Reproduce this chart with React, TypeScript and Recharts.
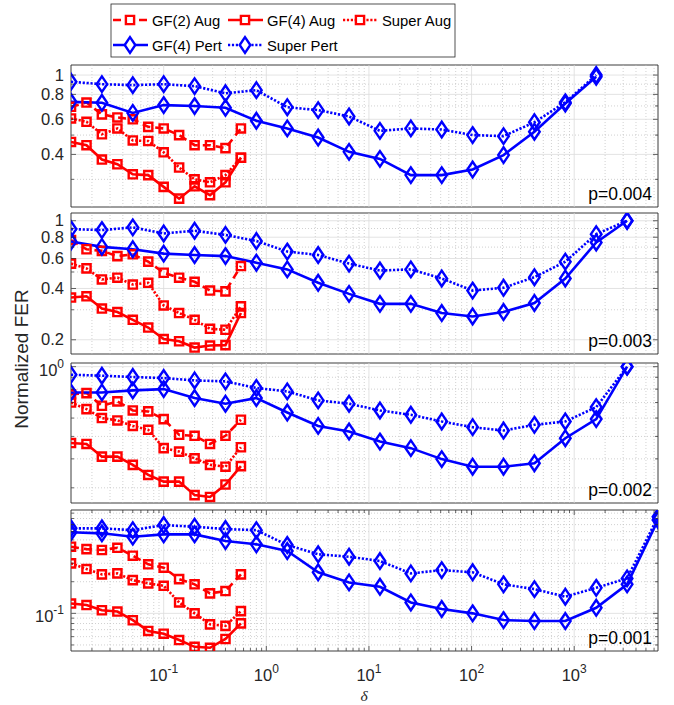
import React from 'react';
import { LineChart, Line, XAxis, YAxis, ReferenceLine, ReferenceArea } from 'recharts';

// ---------- data ----------
const deltaAug = [0.0125, 0.0177, 0.025, 0.0354, 0.05, 0.0707, 0.1, 0.1414, 0.2, 0.2828, 0.4, 0.5657];
const deltaPert = [0.0125, 0.025, 0.05, 0.1, 0.2, 0.4, 0.8, 1.6, 3.2, 6.4, 12.8, 25.6, 51.2, 102.4, 204.8, 409.6, 819.2, 1638.4, 3276.8, 6553.6];

const p1Gf2Aug = [0.693, 0.728, 0.635, 0.613, 0.6, 0.55, 0.54, 0.5, 0.445, 0.445, 0.43, 0.54];
const p1Gf4Aug = [0.462, 0.445, 0.377, 0.357, 0.318, 0.315, 0.275, 0.24, 0.277, 0.25, 0.29, 0.385];
const p1SuperAug = [0.606, 0.583, 0.505, 0.54, 0.47, 0.467, 0.41, 0.344, 0.3, 0.29, 0.315, 0.385];
const p1Gf4Pert = [0.734, 0.726, 0.646, 0.707, 0.699, 0.685, 0.59, 0.54, 0.486, 0.412, 0.38, 0.315, 0.315, 0.336, 0.397, 0.52, 0.72, 0.98];
const p1SuperPert = [0.925, 0.9, 0.89, 0.9, 0.88, 0.81, 0.84, 0.69, 0.667, 0.62, 0.525, 0.54, 0.533, 0.5, 0.494, 0.58, 0.73, 1.0];

const p2Gf2Aug = [0.77, 0.68, 0.665, 0.62, 0.635, 0.575, 0.495, 0.463, 0.438, 0.389, 0.385, 0.542];
const p2Gf4Aug = [0.354, 0.36, 0.305, 0.291, 0.262, 0.236, 0.202, 0.196, 0.18, 0.185, 0.186, 0.287];
const p2SuperAug = [0.56, 0.525, 0.452, 0.463, 0.422, 0.432, 0.318, 0.287, 0.262, 0.232, 0.229, 0.314];
const p2Gf4Pert = [0.755, 0.702, 0.68, 0.641, 0.629, 0.62, 0.567, 0.518, 0.432, 0.372, 0.325, 0.325, 0.287, 0.274, 0.291, 0.329, 0.458, 0.745, 1.0];
const p2SuperPert = [0.893, 0.881, 0.914, 0.842, 0.873, 0.826, 0.76, 0.659, 0.629, 0.56, 0.51, 0.518, 0.458, 0.389, 0.404, 0.466, 0.575, 0.834, 1.0];

const p3Gf2Aug = [0.76, 0.769, 0.678, 0.708, 0.647, 0.641, 0.594, 0.508, 0.503, 0.464, 0.503, 0.59];
const p3Gf4Aug = [0.468, 0.464, 0.409, 0.409, 0.377, 0.341, 0.319, 0.319, 0.279, 0.274, 0.31, 0.372];
const p3SuperAug = [0.7, 0.656, 0.6, 0.586, 0.555, 0.534, 0.445, 0.43, 0.402, 0.377, 0.37, 0.449];
const p3Gf4Pert = [0.774, 0.774, 0.79, 0.8, 0.732, 0.692, 0.732, 0.634, 0.555, 0.525, 0.475, 0.445, 0.399, 0.37, 0.37, 0.383, 0.491, 0.594, 1.0];
const p3SuperPert = [0.923, 0.914, 0.902, 0.893, 0.872, 0.864, 0.809, 0.782, 0.715, 0.692, 0.647, 0.62, 0.58, 0.548, 0.53, 0.561, 0.58, 0.669, 1.0];

const p4Gf2Aug = [0.431, 0.409, 0.401, 0.421, 0.354, 0.293, 0.272, 0.212, 0.189, 0.155, 0.163, 0.235];
const p4Gf4Aug = [0.124, 0.12, 0.107, 0.104, 0.086, 0.068, 0.064, 0.0557, 0.048, 0.047, 0.057, 0.0803];
const p4SuperAug = [0.299, 0.264, 0.235, 0.24, 0.207, 0.193, 0.183, 0.127, 0.1, 0.0786, 0.076, 0.105];
const p4Gf4Pert = [0.591, 0.578, 0.537, 0.565, 0.565, 0.488, 0.454, 0.392, 0.246, 0.197, 0.179, 0.127, 0.11, 0.1, 0.0863, 0.0845, 0.0845, 0.113, 0.189, 0.774];
const p4SuperPert = [0.645, 0.645, 0.62, 0.693, 0.668, 0.635, 0.62, 0.447, 0.365, 0.346, 0.315, 0.24, 0.258, 0.246, 0.189, 0.17, 0.144, 0.175, 0.215, 0.83];

const panelLabels = ['p=0.004', 'p=0.003', 'p=0.002', 'p=0.001'];
const seriesNames = ['GF(2) Aug', 'GF(4) Aug', 'Super Aug', 'GF(4) Pert', 'Super Pert'];

const xDomain: [number, number] = [0.0125, 6553.6];
const xMajor = [0.1, 1, 10, 100, 1000];
const xMinor = [0.02, 0.03, 0.04, 0.05, 0.06, 0.07, 0.08, 0.09, 0.2, 0.3, 0.4, 0.5, 0.6, 0.7, 0.8, 0.9, 2, 3, 4, 5, 6, 7, 8, 9, 20, 30, 40, 50, 60, 70, 80, 90, 200, 300, 400, 500, 600, 700, 800, 900, 2000, 3000, 4000, 5000, 6000];

const p1YDomain: [number, number] = [0.218, 1.123];
const p2YDomain: [number, number] = [0.165, 1.11];
const p3YDomain: [number, number] = [0.258, 1.037];
const p4YDomain: [number, number] = [0.0438, 0.964];
const p1YMajor = [0.4, 0.6, 0.8, 1];
const p1YMinor = [0.3, 0.5, 0.7, 0.9];
const p2YMajor = [0.2, 0.4, 0.6, 0.8, 1];
const p2YMinor = [0.3, 0.5, 0.7, 0.9];
const p3YMajor = [1];
const p3YMinor = [0.3, 0.4, 0.5, 0.6, 0.7, 0.8, 0.9];
const p4YMajor = [0.1];
const p4YMinor = [0.05, 0.06, 0.07, 0.08, 0.09, 0.2, 0.3, 0.4, 0.5, 0.6, 0.7, 0.8, 0.9];

// ---------- style ----------
const RED = '#ff0000';
const BLUE = '#0000ff';
const AXIS = '#262626';
const TEXT = '#262626';
const GRID_MAJOR = '#dcdcdc';
const GRID_MINOR = '#bdbdbd';
const FONT = '"Liberation Sans", Arial, Helvetica, sans-serif';
const W = 674;
const PLOT_LEFT = 71;
const PLOT_RIGHT = 658;
const PLOT_W = PLOT_RIGHT - PLOT_LEFT;
const PAD = 6;
const LW = 2.6;
const MW = 2.4;
const DASH = '8 5';
const DOT = '2.2 1.7';
const TICK_FS = 16.5;

type Panel = {
  top: number;
  height: number;
  yDomain: [number, number];
  yMajor: number[];
  yMinor: number[];
  expLabels: boolean;
  gf2: number[];
  gf4: number[];
  sup: number[];
  gf4p: number[];
  supp: number[];
  label: string;
  showX: boolean;
};

const panels: Panel[] = [
  { top: 65, height: 142, yDomain: p1YDomain, yMajor: p1YMajor, yMinor: p1YMinor, expLabels: false, gf2: p1Gf2Aug, gf4: p1Gf4Aug, sup: p1SuperAug, gf4p: p1Gf4Pert, supp: p1SuperPert, label: panelLabels[0], showX: false },
  { top: 213, height: 141, yDomain: p2YDomain, yMajor: p2YMajor, yMinor: p2YMinor, expLabels: false, gf2: p2Gf2Aug, gf4: p2Gf4Aug, sup: p2SuperAug, gf4p: p2Gf4Pert, supp: p2SuperPert, label: panelLabels[1], showX: false },
  { top: 363, height: 140, yDomain: p3YDomain, yMajor: p3YMajor, yMinor: p3YMinor, expLabels: true, gf2: p3Gf2Aug, gf4: p3Gf4Aug, sup: p3SuperAug, gf4p: p3Gf4Pert, supp: p3SuperPert, label: panelLabels[2], showX: false },
  { top: 510, height: 141, yDomain: p4YDomain, yMajor: p4YMajor, yMinor: p4YMinor, expLabels: true, gf2: p4Gf2Aug, gf4: p4Gf4Aug, sup: p4SuperAug, gf4p: p4Gf4Pert, supp: p4SuperPert, label: panelLabels[3], showX: true },
];

const toPts = (xs: number[], ys: number[]) => ys.map((y, i) => ({ x: xs[i], y }));
const inList = (list: number[], v: number) => list.some((m) => Math.abs(m - v) < 1e-9 * Math.max(1, m));

const squarePath = (cx: number, cy: number, s = 4.1) =>
  `M${cx - s},${cy - s}L${cx + s},${cy - s}L${cx + s},${cy + s}L${cx - s},${cy + s}Z`;
const diamondPath = (cx: number, cy: number, w = 5.3, h = 7.8) =>
  `M${cx},${cy - h}L${cx + w},${cy}L${cx},${cy + h}L${cx - w},${cy}Z`;

const squareDot = (color: string) => (p: any) => {
  if (p.cx == null || p.cy == null) return <g key={`s${p.index}`} />;
  return <path key={`s${p.index}`} d={squarePath(p.cx, p.cy)} stroke={color} strokeWidth={MW} fill="none" />;
};
const diamondDot = (color: string) => (p: any) => {
  if (p.cx == null || p.cy == null) return <g key={`d${p.index}`} />;
  return <path key={`d${p.index}`} d={diamondPath(p.cx, p.cy)} stroke={color} strokeWidth={MW} fill="none" />;
};

function XTick(props: any) {
  const { x, y, payload, plotH, showLabel } = props;
  const v = payload.value;
  const major = inList(xMajor, v);
  const len = major ? 5 : 3;
  return (
    <g>
      <line x1={x} x2={x} y1={y} y2={y - len} stroke={AXIS} strokeWidth={0.7} />
      <line x1={x} x2={x} y1={y - plotH} y2={y - plotH + len} stroke={AXIS} strokeWidth={0.7} />
      {showLabel && major ? (
        <text x={x} y={y + 30} textAnchor="middle" fontSize={TICK_FS} fill={TEXT} fontFamily={FONT}>
          <tspan>10</tspan>
          <tspan dy={-8} fontSize={12}>{String(Math.round(Math.log10(v)))}</tspan>
        </text>
      ) : null}
    </g>
  );
}

function YTick(props: any) {
  const { x, y, payload, majors, expLabels } = props;
  const v = payload.value;
  const major = inList(majors, v);
  const len = major ? 5 : 3;
  let label: any = null;
  if (major) {
    if (expLabels) {
      label = (
        <text x={x - 7} y={y + 9} textAnchor="end" fontSize={TICK_FS} fill={TEXT} fontFamily={FONT}>
          <tspan>10</tspan>
          <tspan dy={-8} fontSize={12}>{String(Math.round(Math.log10(v)))}</tspan>
        </text>
      );
    } else {
      label = (
        <text x={x - 7} y={y + 5.5} textAnchor="end" fontSize={TICK_FS} fill={TEXT} fontFamily={FONT}>
          {String(v)}
        </text>
      );
    }
  }
  return (
    <g>
      <line x1={x} x2={x + len} y1={y} y2={y} stroke={AXIS} strokeWidth={0.7} />
      <line x1={x + PLOT_W} x2={x + PLOT_W - len} y1={y} y2={y} stroke={AXIS} strokeWidth={0.7} />
      {label}
    </g>
  );
}

function PanelChart({ p }: { p: Panel }) {
  const xAxisH = p.showX ? 45 : 0;
  const h = p.height + 2 * PAD + xAxisH;
  const yTicks = [...p.yMinor, ...p.yMajor].sort((a, b) => a - b);
  const xTicks = [...xMinor, ...xMajor].sort((a, b) => a - b);
  return (
    <div style={{ position: 'absolute', left: 0, top: p.top - PAD }}>
      <LineChart width={W} height={h} margin={{ top: PAD, right: W - PLOT_RIGHT, bottom: PAD, left: PLOT_LEFT - 40 }}>
        <XAxis
          dataKey="x"
          type="number"
          scale="log"
          domain={xDomain}
          allowDataOverflow
          ticks={xTicks}
          interval={0}
          tickSize={0}
          tickMargin={0}
          axisLine={false}
          tickLine={false}
          height={xAxisH}
          tick={(tp: any) => <XTick {...tp} plotH={p.height} showLabel={p.showX} />}
        />
        <YAxis
          type="number"
          scale="log"
          domain={p.yDomain}
          allowDataOverflow
          ticks={yTicks}
          interval={0}
          width={40}
          tickSize={0}
          tickMargin={0}
          axisLine={false}
          tickLine={false}
          tick={(tp: any) => <YTick {...tp} majors={p.yMajor} expLabels={p.expLabels} />}
        />
        {xMinor.map((v) => (
          <ReferenceLine key={`xm${v}`} x={v} stroke={GRID_MINOR} strokeWidth={0.7} strokeDasharray="1 2" />
        ))}
        {p.yMinor.map((v) => (
          <ReferenceLine key={`ym${v}`} y={v} stroke={GRID_MINOR} strokeWidth={0.7} strokeDasharray="1 2" />
        ))}
        {xMajor.map((v) => (
          <ReferenceLine key={`xM${v}`} x={v} stroke={GRID_MAJOR} strokeWidth={0.8} />
        ))}
        {p.yMajor.map((v) => (
          <ReferenceLine key={`yM${v}`} y={v} stroke={GRID_MAJOR} strokeWidth={0.8} />
        ))}
        <Line data={toPts(deltaAug, p.gf2)} dataKey="y" name={seriesNames[0]} stroke={RED} strokeWidth={LW} strokeDasharray={DASH} dot={squareDot(RED)} activeDot={false} isAnimationActive={false} />
        <Line data={toPts(deltaAug, p.gf4)} dataKey="y" name={seriesNames[1]} stroke={RED} strokeWidth={LW} dot={squareDot(RED)} activeDot={false} isAnimationActive={false} />
        <Line data={toPts(deltaAug, p.sup)} dataKey="y" name={seriesNames[2]} stroke={RED} strokeWidth={LW} strokeDasharray={DOT} dot={squareDot(RED)} activeDot={false} isAnimationActive={false} />
        <Line data={toPts(deltaPert, p.gf4p)} dataKey="y" name={seriesNames[3]} stroke={BLUE} strokeWidth={LW} dot={diamondDot(BLUE)} activeDot={false} isAnimationActive={false} />
        <Line data={toPts(deltaPert, p.supp)} dataKey="y" name={seriesNames[4]} stroke={BLUE} strokeWidth={LW} strokeDasharray={DOT} dot={diamondDot(BLUE)} activeDot={false} isAnimationActive={false} />
        <ReferenceArea x1={xDomain[0]} x2={xDomain[1]} y1={p.yDomain[0]} y2={p.yDomain[1]} fill="none" fillOpacity={0} stroke={AXIS} strokeWidth={0.9} ifOverflow="visible" />
      </LineChart>
    </div>
  );
}

function LegendItem({ x, y, color, dash, marker, label }: { x: number; y: number; color: string; dash?: string; marker: 'sq' | 'di'; label: string }) {
  const cx = x + 17;
  return (
    <g>
      <line x1={x} x2={x + 35} y1={y} y2={y} stroke={color} strokeWidth={LW} strokeDasharray={dash} />
      <path d={marker === 'sq' ? squarePath(cx, y) : diamondPath(cx, y)} stroke={color} strokeWidth={MW} fill="#fff" />
      <text x={x + 39} y={y + 5.5} fontSize={14.8} fill="#000" fontFamily={FONT}>{label}</text>
    </g>
  );
}

export default function App() {
  return (
    <div style={{ position: 'absolute', left: 0, top: 0, width: W, height: 705, background: '#fff', overflow: 'hidden' }}>
      {panels.map((p, i) => (
        <PanelChart key={i} p={p} />
      ))}
      <svg width={W} height={705} style={{ position: 'absolute', left: 0, top: 0, pointerEvents: 'none' }}>
        <rect x={111} y={4} width={344} height={53} fill="#fff" stroke={AXIS} strokeWidth={0.8} />
        <LegendItem x={113} y={20} color={RED} dash={DASH} marker="sq" label={seriesNames[0]} />
        <LegendItem x={228} y={20} color={RED} marker="sq" label={seriesNames[1]} />
        <LegendItem x={343} y={20} color={RED} dash={DOT} marker="sq" label={seriesNames[2]} />
        <LegendItem x={113} y={45} color={BLUE} marker="di" label={seriesNames[3]} />
        <LegendItem x={228} y={45} color={BLUE} dash={DOT} marker="di" label={seriesNames[4]} />
        {panels.map((p, i) => (
          <text key={i} x={652} y={p.top + p.height - 7} textAnchor="end" fontSize={17.5} fill="#000" fontFamily={FONT}>
            {p.label}
          </text>
        ))}
        <text transform="translate(28,359) rotate(-90)" textAnchor="middle" fontSize={19} fill={TEXT} fontFamily={FONT}>
          Normalized FER
        </text>
        <text x={364} y={701} textAnchor="middle" fontSize={15.5} fontStyle="italic" fill={TEXT} fontFamily='"Liberation Serif", "Times New Roman", serif'>
          δ
        </text>
      </svg>
    </div>
  );
}
